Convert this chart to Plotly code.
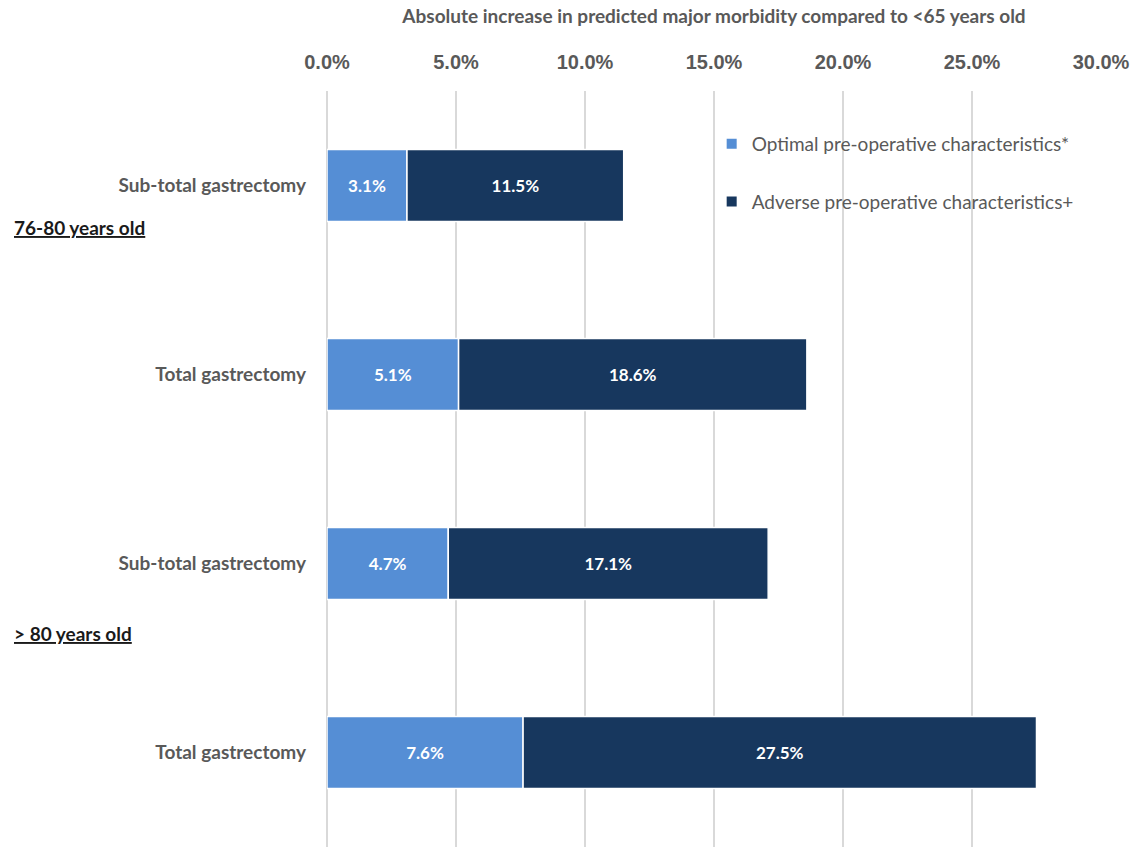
import plotly.graph_objects as go

# Rows, top to bottom
procedures = ["Sub-total gastrectomy", "Total gastrectomy",
              "Sub-total gastrectomy", "Total gastrectomy"]
age_groups = ["76-80 years old", "> 80 years old"]
age_group_rows = [0.22, 2.37]

# Absolute increase in predicted major morbidity (fraction)
optimal = [0.031, 0.051, 0.047, 0.076]
adverse = [0.115, 0.186, 0.171, 0.275]

tick_vals = [0, 0.05, 0.10, 0.15, 0.20, 0.25, 0.30]
tick_text = ["0.0%", "5.0%", "10.0%", "15.0%", "20.0%", "25.0%", "30.0%"]

rows = list(range(len(procedures)))
light = "#558ED5"
dark = "#17375E"
FONT = "Lato, Open Sans, sans-serif"
label_font = dict(family=FONT, size=17, color="white", weight="bold")

fig = go.Figure()
fig.add_trace(go.Bar(
    name="Optimal pre-operative characteristics*", legendgroup="opt",
    y=rows, x=optimal, orientation="h",
    marker=dict(color=light, line=dict(color="white", width=1.5)),
    width=0.38,
    text=[f"{v*100:.1f}%" for v in optimal],
    textposition="inside", insidetextanchor="middle",
    textfont=label_font, textangle=0,
))
fig.add_trace(go.Bar(
    name="Adverse pre-operative characteristics+", legendgroup="adv",
    y=rows, x=[a - o for a, o in zip(adverse, optimal)], base=optimal,
    orientation="h",
    marker=dict(color=dark, line=dict(color="white", width=1.5)),
    width=0.38,
    text=[f"{v*100:.1f}%" for v in adverse],
    textposition="inside", insidetextanchor="middle",
    textfont=label_font, textangle=0,
))

# Age-group headings at the left page edge
for label, yv in zip(age_groups, age_group_rows):
    fig.add_annotation(
        text=f"<b><u>{label}</u></b>", x=-0.407, xref="paper",
        xanchor="left", y=yv, yref="y", showarrow=False,
        font=dict(family=FONT, size=19, color="#1a1a1a"),
    )

fig.update_layout(
    width=1136, height=847,
    margin=dict(l=327, r=35, t=91, b=0),
    plot_bgcolor="white", paper_bgcolor="white",
    barmode="overlay",
    showlegend=True,
    legend=dict(
        x=0.497, y=0.955, xanchor="left", yanchor="top",
        font=dict(family=FONT, size=19, color="#595959"),
        tracegroupgap=30, itemsizing="constant", itemwidth=30,
        bgcolor="rgba(0,0,0,0)",
    ),
    xaxis=dict(
        side="top", range=[0, 0.30], tickvals=tick_vals, ticktext=tick_text,
        showgrid=True, gridcolor="#D9D9D9", gridwidth=1.5,
        zeroline=True, zerolinecolor="#D9D9D9", zerolinewidth=1.5,
        tickfont=dict(family="Liberation Sans Narrow, Liberation Sans, sans-serif",
                      size=20, color="#595959", weight="bold"),
        ticks="", ticklabelstandoff=17,
        title=dict(text="<b>Absolute increase in predicted major morbidity compared to <65 years old</b>",
                   font=dict(family=FONT, size=19, color="#595959"),
                   standoff=22),
    ),
    yaxis=dict(
        range=[3.5, -0.5], tickvals=rows, ticktext=[f"<b>{p}</b>" for p in procedures],
        showgrid=False, zeroline=False, ticks="", ticklabelstandoff=20,
        tickfont=dict(family=FONT, size=19, color="#595959"),
    ),
)

fig.write_html("out.html")
